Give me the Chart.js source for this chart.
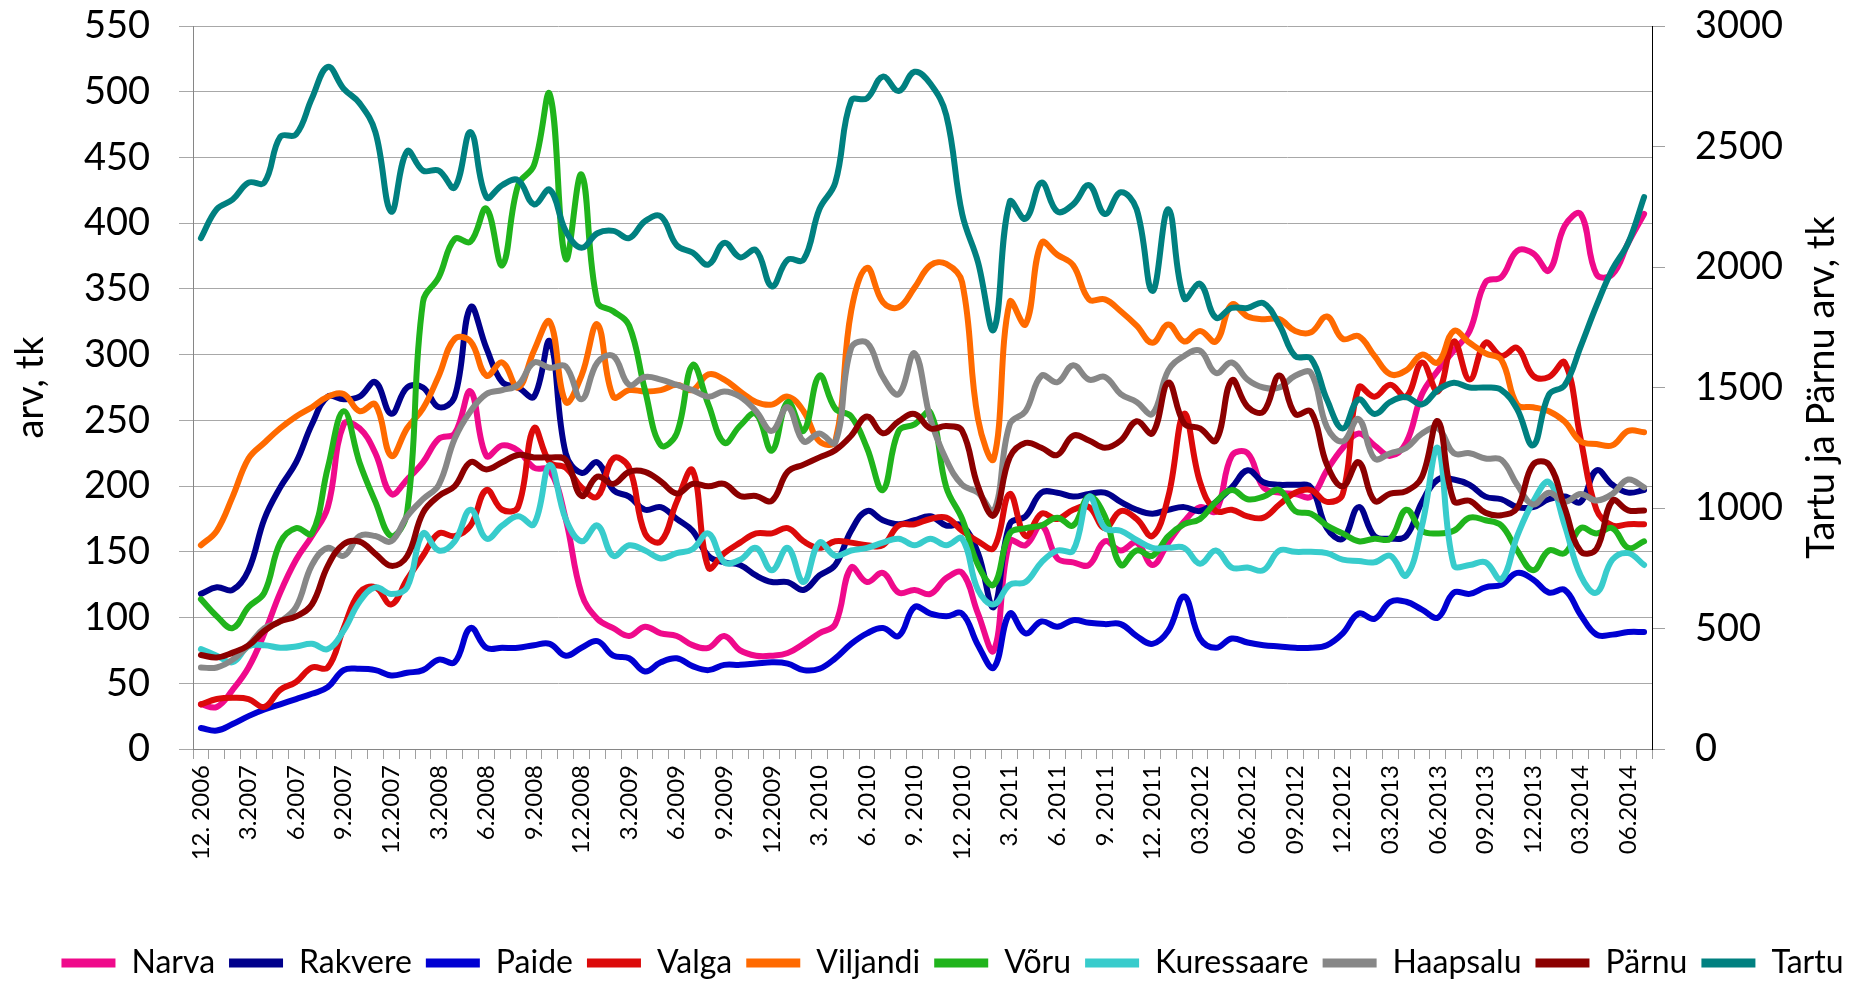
<!DOCTYPE html>
<html>
<head>
<meta charset="utf-8">
<script src="https://cdn.jsdelivr.net/npm/chart.js@4.4.1/dist/chart.umd.min.js"></script>
<style>
  html, body { margin: 0; padding: 0; background: #fff; }
  #chart { display: block; }
</style>
</head>
<body>
<canvas id="chart" width="1853" height="982"></canvas>
<script>
const months = [
    "2006-12",
    "2007-01", "2007-02", "2007-03", "2007-04", "2007-05", "2007-06", "2007-07", "2007-08", "2007-09", "2007-10", "2007-11", "2007-12",
    "2008-01", "2008-02", "2008-03", "2008-04", "2008-05", "2008-06", "2008-07", "2008-08", "2008-09", "2008-10", "2008-11", "2008-12",
    "2009-01", "2009-02", "2009-03", "2009-04", "2009-05", "2009-06", "2009-07", "2009-08", "2009-09", "2009-10", "2009-11", "2009-12",
    "2010-01", "2010-02", "2010-03", "2010-04", "2010-05", "2010-06", "2010-07", "2010-08", "2010-09", "2010-10", "2010-11", "2010-12",
    "2011-01", "2011-02", "2011-03", "2011-04", "2011-05", "2011-06", "2011-07", "2011-08", "2011-09", "2011-10", "2011-11", "2011-12",
    "2012-01", "2012-02", "2012-03", "2012-04", "2012-05", "2012-06", "2012-07", "2012-08", "2012-09", "2012-10", "2012-11", "2012-12",
    "2013-01", "2013-02", "2013-03", "2013-04", "2013-05", "2013-06", "2013-07", "2013-08", "2013-09", "2013-10", "2013-11", "2013-12",
    "2014-01", "2014-02", "2014-03", "2014-04", "2014-05", "2014-06", "2014-07"
];

// shown under every third month
const tickLabels = [
    "12. 2006", "3.2007", "6.2007", "9.2007", "12.2007", "3.2008", "6.2008", "9.2008", "12.2008",
    "3.2009", "6.2009", "9.2009", "12.2009", "3. 2010", "6. 2010", "9. 2010", "12. 2010",
    "3. 2011", "6. 2011", "9. 2011", "12. 2011", "03.2012", "06.2012", "09.2012", "12.2012",
    "03.2013", "06.2013", "09.2013", "12.2013", "03.2014", "06.2014"
];

// left axis (arv, tk)
const narva = [34, 32, 45, 62, 88, 119, 144, 162, 184, 247, 244, 225, 194, 205, 218, 236, 240, 272, 223, 231, 227, 214, 212, 175,
    118, 99, 92, 86, 93, 88, 86, 79, 77, 86, 75, 71, 71, 73, 80, 88, 95, 138, 127, 134, 119, 121, 118, 130,
    134, 103, 75, 158, 155, 170, 145, 142, 140, 158, 151, 157, 140, 157, 173, 184, 181, 223, 225, 199, 195, 194, 192, 212,
    229, 240, 231, 223, 233, 270, 288, 303, 318, 355, 359, 379, 377, 364, 398, 407, 361, 361, 385, 407];
const rakvere = [118, 123, 121, 136, 175, 199, 218, 247, 268, 266, 268, 279, 255, 275, 275, 260, 268, 336, 305, 279, 275, 268, 310, 225,
    210, 218, 197, 192, 182, 184, 175, 166, 147, 142, 140, 132, 127, 127, 121, 132, 140, 166, 181, 174, 171, 174, 177, 170,
    170, 149, 108, 171, 177, 195, 195, 192, 194, 195, 188, 182, 179, 182, 184, 181, 188, 199, 212, 203, 201, 201, 199, 168,
    160, 184, 162, 160, 162, 188, 205, 205, 201, 192, 190, 184, 184, 190, 192, 188, 212, 201, 195, 197];
const paide = [16, 14, 19, 25, 30, 34, 38, 42, 47, 60, 61, 60, 56, 58, 60, 68, 66, 92, 77, 77, 77, 79, 80, 71,
    77, 82, 71, 69, 59, 66, 69, 63, 60, 64, 64, 65, 66, 65, 60, 61, 69, 80, 88, 92, 86, 108, 103, 101,
    103, 79, 62, 103, 88, 97, 93, 98, 96, 95, 95, 86, 80, 90, 116, 84, 77, 84, 81, 79, 78, 77, 77, 79,
    88, 103, 99, 112, 112, 106, 100, 119, 118, 123, 125, 134, 129, 119, 121, 102, 87, 87, 89, 89];
const valga = [34, 38, 39, 38, 32, 45, 51, 62, 62, 92, 119, 123, 110, 129, 147, 164, 162, 170, 197, 182, 184, 244, 218, 214,
    199, 192, 221, 214, 164, 158, 188, 212, 138, 149, 157, 164, 164, 168, 158, 153, 158, 157, 155, 155, 170, 171, 175, 176,
    166, 158, 153, 194, 162, 179, 175, 182, 184, 168, 181, 175, 162, 192, 255, 203, 181, 182, 177, 176, 186, 195, 197, 188,
    194, 275, 268, 277, 268, 294, 272, 310, 281, 309, 299, 305, 284, 283, 294, 236, 182, 170, 171, 171];
const viljandi = [155, 166, 192, 221, 233, 244, 253, 260, 268, 270, 257, 262, 223, 244, 259, 284, 312, 310, 284, 294, 275, 303, 325, 264,
    284, 323, 268, 273, 272, 273, 277, 273, 285, 281, 272, 264, 262, 268, 257, 234, 234, 333, 366, 340, 336, 351, 368, 369,
    355, 251, 221, 340, 323, 385, 376, 368, 342, 342, 333, 322, 309, 323, 310, 318, 310, 338, 329, 327, 327, 318, 317, 329,
    312, 314, 299, 285, 288, 300, 294, 318, 309, 301, 296, 262, 260, 257, 249, 234, 232, 231, 242, 241];
const voru = [114, 101, 92, 108, 119, 157, 168, 164, 214, 257, 218, 188, 162, 180, 340, 359, 388, 386, 411, 368, 429, 444, 498, 373,
    437, 340, 333, 322, 273, 231, 240, 292, 262, 233, 246, 255, 227, 264, 242, 284, 259, 253, 229, 197, 242, 247, 256, 199,
    175, 140, 125, 164, 168, 170, 176, 170, 192, 177, 140, 151, 147, 162, 171, 175, 188, 197, 190, 192, 197, 181, 179, 170,
    164, 158, 160, 160, 182, 166, 164, 166, 176, 174, 170, 151, 136, 151, 149, 168, 164, 168, 153, 158];
const kuressaare = [76, 71, 66, 78, 79, 77, 78, 80, 76, 90, 112, 123, 118, 123, 164, 151, 158, 182, 160, 170, 177, 171, 216, 175,
    158, 170, 147, 155, 151, 145, 149, 152, 164, 142, 144, 153, 136, 153, 127, 157, 147, 151, 153, 157, 160, 155, 160, 155,
    160, 121, 110, 125, 127, 142, 151, 151, 192, 168, 166, 159, 153, 153, 153, 141, 151, 138, 138, 136, 151, 150, 150, 149,
    144, 143, 142, 147, 132, 170, 229, 140, 140, 142, 129, 162, 188, 203, 170, 132, 119, 144, 149, 140];
const haapsalu = [62, 62, 68, 79, 92, 97, 108, 140, 153, 147, 162, 162, 158, 177, 190, 201, 236, 257, 270, 273, 277, 294, 290, 291,
    266, 294, 299, 277, 283, 281, 277, 273, 268, 272, 268, 257, 242, 260, 234, 240, 233, 305, 309, 283, 270, 301, 251, 220,
    201, 195, 181, 247, 257, 284, 279, 292, 281, 283, 270, 264, 255, 288, 299, 303, 286, 294, 281, 275, 275, 284, 286, 245,
    234, 251, 221, 225, 229, 240, 244, 225, 225, 221, 220, 201, 186, 195, 188, 194, 189, 194, 205, 199];

// right axis (Tartu ja Pärnu arv, tk)
const parnu = [390, 380, 400, 430, 490, 530, 550, 600, 760, 850, 860, 810, 760, 800, 980, 1050, 1090, 1190, 1160, 1190, 1220, 1210, 1210, 1200,
    1050, 1130, 1100, 1150, 1150, 1110, 1060, 1100, 1090, 1100, 1050, 1050, 1030, 1150, 1180, 1210, 1240, 1300, 1380, 1310, 1360, 1390, 1330, 1340,
    1320, 1090, 970, 1210, 1270, 1250, 1220, 1300, 1280, 1250, 1280, 1360, 1310, 1520, 1350, 1330, 1280, 1530, 1420, 1400, 1550, 1390, 1400, 1180,
    1090, 1190, 1030, 1060, 1070, 1130, 1360, 1030, 1030, 980, 970, 1000, 1180, 1180, 1000, 820, 830, 1030, 990, 990];
const tartu = [2120, 2240, 2280, 2350, 2350, 2540, 2550, 2700, 2830, 2740, 2680, 2560, 2230, 2480, 2400, 2400, 2330, 2560, 2290, 2340, 2360, 2260, 2320, 2150,
    2080, 2140, 2150, 2120, 2190, 2210, 2090, 2060, 2010, 2100, 2040, 2070, 1920, 2030, 2030, 2240, 2350, 2690, 2700, 2790, 2730, 2810, 2760, 2630,
    2220, 2020, 1740, 2270, 2200, 2350, 2230, 2260, 2340, 2220, 2310, 2240, 1900, 2240, 1870, 1930, 1790, 1830, 1830, 1850, 1760, 1630, 1620, 1450,
    1330, 1450, 1390, 1440, 1460, 1430, 1490, 1520, 1500, 1500, 1490, 1410, 1260, 1470, 1510, 1670, 1840, 1990, 2100, 2290];

const series = [
    ["Narva", narva, "#ef0a8b", "y"],
    ["Rakvere", rakvere, "#00008c", "y"],
    ["Paide", paide, "#0000d2", "y"],
    ["Valga", valga, "#dc0a0a", "y"],
    ["Viljandi", viljandi, "#ff6a00", "y"],
    ["Võru", voru, "#20b41c", "y"],
    ["Kuressaare", kuressaare, "#38cccc", "y"],
    ["Haapsalu", haapsalu, "#878787", "y"],
    ["Pärnu", parnu, "#8c0000", "y1"],
    ["Tartu", tartu, "#008080", "y1"],
];

Chart.defaults.font.family = "Lato";
Chart.defaults.color = "#000";

const rightTitle = {
    id: "rightTitle",
    afterLayout(chart) {
        // legend sits a bit lower and right of centre in the original
        chart.legend.top += 7;
        chart.legend.bottom += 7;
        chart.legend.left += 26;
        chart.legend.right += 26;
    },
    afterDraw(chart) {
        const {ctx, chartArea} = chart;
        ctx.save();
        ctx.translate(chart.scales.y1.right - 31, (chartArea.top + chartArea.bottom) / 2);
        ctx.rotate(-Math.PI / 2);
        ctx.font = "38px Lato";
        ctx.fillStyle = "#000";
        ctx.textAlign = "center";
        ctx.textBaseline = "middle";
        ctx.fillText("Tartu ja Pärnu arv, tk", 0, 0);
        ctx.restore();
    }
};

// fixed axis widths, and no extra top/bottom room from the tick padding
const fitY = width => scale => {
    scale.width = width;
    scale.paddingTop = 0;
    scale.paddingBottom = 0;
};

new Chart(document.getElementById("chart"), {
    type: "line",
    data: {
        labels: months,
        datasets: series.map(([name, values, color, axis], i) => ({
            label: name,
            data: values,
            yAxisID: axis,
            borderColor: color,
            backgroundColor: color,
            borderWidth: 6,
            pointRadius: 0,
            tension: 0.4,
            borderCapStyle: "round",
            borderJoinStyle: "round",
            order: series.length - i,
        }))
    },
    options: {
        responsive: false,
        animation: false,
        layout: {
            padding: {top: 26, left: 0, right: 0, bottom: 0}
        },
        plugins: {
            tooltip: {enabled: false},
            legend: {
                position: "bottom",
                labels: {
                    font: {size: 32},
                    boxWidth: 54,
                    boxHeight: 9,
                    padding: 14,
                    sort: (a, b) => a.datasetIndex - b.datasetIndex,
                    generateLabels: chart => Chart.defaults.plugins.legend.labels.generateLabels(chart)
                        .map(item => ({...item, lineWidth: 0}))
                }
            }
        },
        scales: {
            x: {
                offset: true,
                afterFit: scale => { scale.height = 177; },
                border: {color: "#868686"},
                grid: {
                    offset: true,
                    drawOnChartArea: false,
                    tickLength: 10,
                    color: "#a0a0a0"
                },
                ticks: {
                    autoSkip: false,
                    minRotation: 90,
                    maxRotation: 90,
                    padding: 6,
                    font: {size: 24},
                    callback: (val, i) => i % 3 === 0 ? tickLabels[i / 3] : ""
                }
            },
            y: {
                position: "left",
                min: 0,
                max: 550,
                afterFit: fitY(193),
                border: {color: "#868686"},
                grid: {color: "#a8a8a8", tickLength: 14},
                ticks: {stepSize: 50, padding: 29, font: {size: 38}},
                title: {
                    display: true,
                    text: "arv, tk",
                    font: {size: 38},
                    padding: {top: 8, bottom: 0}
                }
            },
            y1: {
                position: "right",
                min: 0,
                max: 3000,
                afterFit: fitY(201),
                border: {color: "#000"},
                grid: {drawOnChartArea: false, color: "#a0a0a0", tickLength: 13},
                ticks: {stepSize: 500, padding: 30, font: {size: 38}, callback: v => String(v)}
            }
        }
    },
    plugins: [rightTitle]
});
</script>
</body>
</html>
